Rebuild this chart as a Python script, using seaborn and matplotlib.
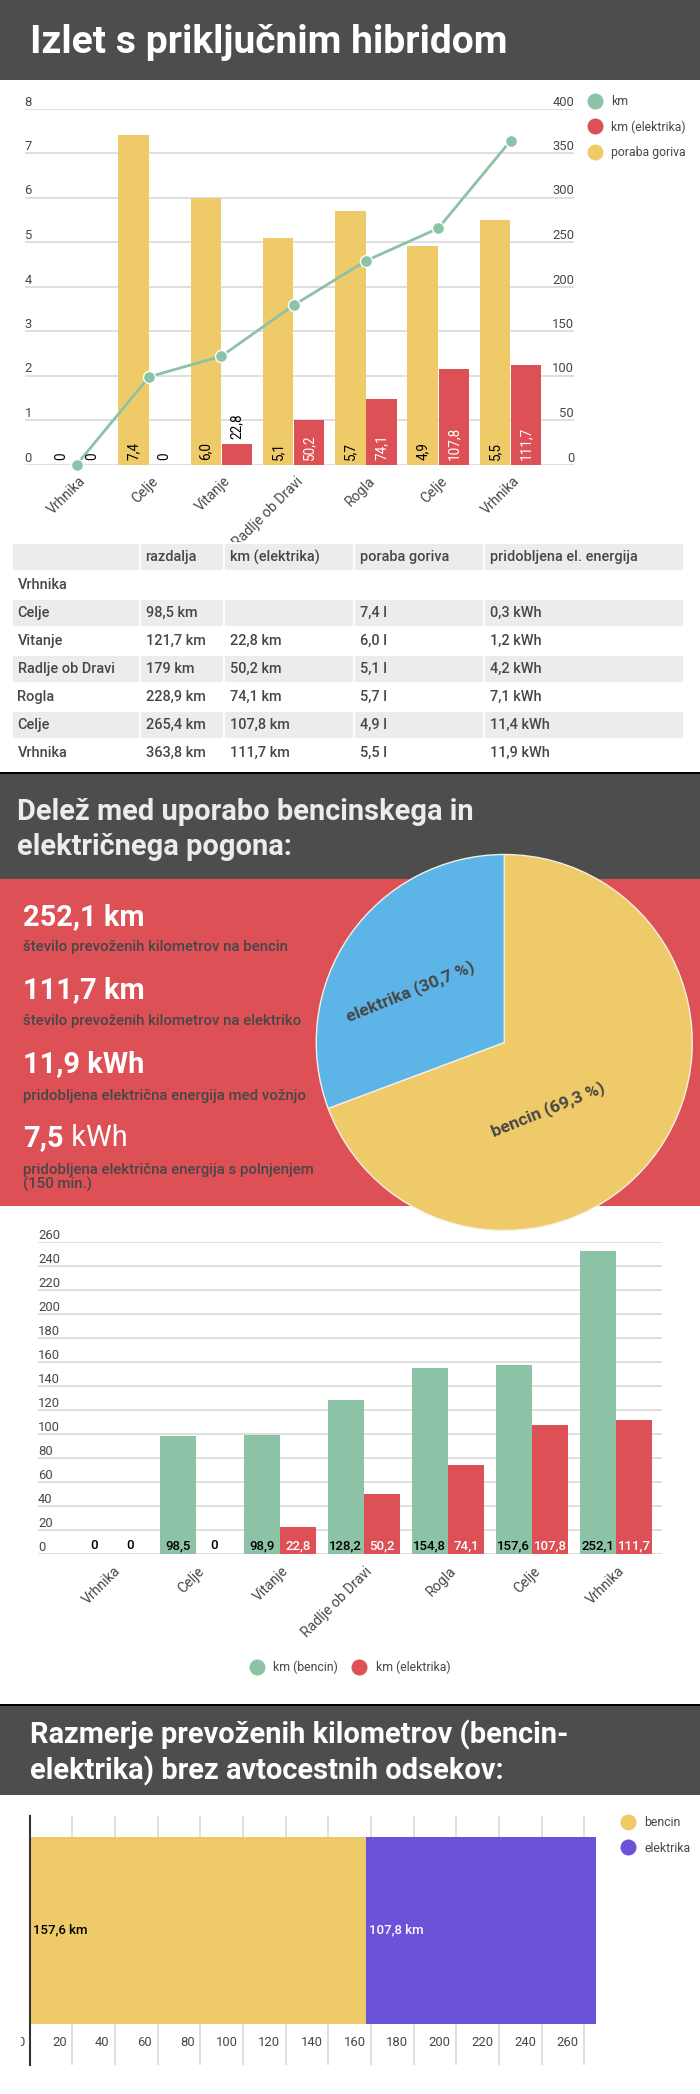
import matplotlib
matplotlib.use('Agg')
import matplotlib.pyplot as plt
import matplotlib.transforms as mtrans
import pandas as pd
import seaborn as sns
from matplotlib.lines import Line2D
from matplotlib.patches import Rectangle

W, H = 700, 2094

GREEN = '#8cc2a6'
RED = '#dc5056'
YELLOW = '#efca68'
BLUE = '#5db4e6'
PURPLE = '#6b52d9'
DARK = '#4d4d4d'
TEXT = '#474747'
GRID = '#dcdcdc'

stops = ['Vrhnika', 'Celje', 'Vitanje', 'Radlje ob Dravi', 'Rogla', 'Celje', 'Vrhnika']
stop_idx = [0, 1, 2, 3, 4, 5, 6]

fuel = [0, 7.4, 6.0, 5.1, 5.7, 4.9, 5.5]
km_total = [0, 98.5, 121.7, 179, 228.9, 265.4, 363.8]
km_electric = [0, 0, 22.8, 50.2, 74.1, 107.8, 111.7]
km_petrol = [0, 98.5, 98.9, 128.2, 154.8, 157.6, 252.1]

table_head = ['', 'razdalja', 'km (elektrika)', 'poraba goriva', 'pridobljena el. energija']
table_rows = [
    ['Vrhnika', '', '', '', ''],
    ['Celje', '98,5 km', '', '7,4 l', '0,3 kWh'],
    ['Vitanje', '121,7 km', '22,8 km', '6,0 l', '1,2 kWh'],
    ['Radlje ob Dravi', '179 km', '50,2 km', '5,1 l', '4,2 kWh'],
    ['Rogla', '228,9 km', '74,1 km', '5,7 l', '7,1 kWh'],
    ['Celje', '265,4 km', '107,8 km', '4,9 l', '11,4 kWh'],
    ['Vrhnika', '363,8 km', '111,7 km', '5,5 l', '11,9 kWh'],
]

share_labels = ['bencin (69,3 %)', 'elektrika (30,7 %)']
share_values = [69.3, 30.7]

split_labels = ['bencin', 'elektrika']
split_values = [157.6, 107.8]

sns.set_theme(style='white')
plt.rcParams['font.family'] = ['Roboto', 'DejaVu Sans']
plt.rcParams['axes.unicode_minus'] = False


def comma(v):
    if v == 0:
        return '0'
    return ('%.1f' % v).replace('.', ',')


def px(size):
    # font sizes below are given in pixels of the 100 dpi figure
    return size * 0.72


def px_axes(x0, y0, x1, y1, **kw):
    ax = fig.add_axes([x0 / W, 1 - y1 / H, (x1 - x0) / W, (y1 - y0) / H], **kw)
    ax.patch.set_alpha(0)
    return ax


def shift(label, dx, dy):
    label.set_transform(label.get_transform() + mtrans.ScaledTranslation(dx / 100, dy / 100, fig.dpi_scale_trans))


def clean(ax):
    ax.set_xlabel('')
    ax.set_ylabel('')
    ax.tick_params(length=0)
    for s in ax.spines.values():
        s.set_visible(False)


def circle_legend(labels, colors, x, y, ncol=1, size=12.3, spacing=1.0, colspace=0.7):
    handles = [Line2D([], [], ls='', marker='o', color=c, markersize=px(16), markeredgewidth=0) for c in colors]
    leg = fig.legend(handles, labels, loc='upper left', bbox_to_anchor=(x / W, 1 - y / H), ncol=ncol,
                     frameon=False, borderpad=0, borderaxespad=0, handletextpad=0.35,
                     labelspacing=spacing, columnspacing=colspace, fontsize=px(size))
    for t in leg.get_texts():
        t.set_color(TEXT)
    return leg


def xlabels(ax, dx):
    ax.set_xticks(stop_idx)
    ax.set_xticklabels(stops, rotation=45, ha='right', rotation_mode='anchor', color=TEXT, fontsize=px(14))
    ax.tick_params(axis='x', pad=7)
    for lab in ax.get_xticklabels():
        shift(lab, dx, 0)


fig = plt.figure(figsize=(W / 100, H / 100), dpi=100, facecolor='white')

# page background: bands and headings, drawn in pixel coordinates
bg = fig.add_axes([0, 0, 1, 1], zorder=-1)
bg.set_xlim(0, W)
bg.set_ylim(H, 0)
bg.axis('off')
bg.add_patch(Rectangle((0, 0), W, 79.5, color=DARK, lw=0))
bg.add_patch(Rectangle((0, 772), W, 2, color='black', lw=0))
bg.add_patch(Rectangle((0, 774), W, 104.5, color=DARK, lw=0))
bg.add_patch(Rectangle((0, 878.5), W, 327, color=RED, lw=0))
bg.add_patch(Rectangle((0, 1704), W, 2, color='black', lw=0))
bg.add_patch(Rectangle((0, 1706), W, 89, color=DARK, lw=0))

bg.text(30, 53, 'Izlet s priključnim hibridom', color='white', fontsize=px(39), fontweight='bold', va='baseline')
bg.text(17, 820, 'Delež med uporabo bencinskega in', color='#ececec', fontsize=px(29), fontweight='bold', va='baseline')
bg.text(17, 855, 'električnega pogona:', color='#ececec', fontsize=px(29), fontweight='bold', va='baseline')
bg.text(29.5, 1743.5, 'Razmerje prevoženih kilometrov (bencin-', color='white', fontsize=px(29), fontweight='bold', va='baseline')
bg.text(29.5, 1779.5, 'elektrika) brez avtocestnih odsekov:', color='white', fontsize=px(29), fontweight='bold', va='baseline')

big_numbers = [('252,1 km', 925), ('111,7 km', 998.5), ('11,9 kWh', 1072)]
for txt, y in big_numbers:
    bg.text(23, y, txt, color='white', fontsize=px(29), fontweight='bold', va='baseline')
t75 = bg.text(23, 1146.5, '7,5', color='white', fontsize=px(29), fontweight='bold', va='baseline')
bg.annotate(' kWh', xy=(1, 0), xycoords=t75, color='white', fontsize=px(29), fontweight='normal', va='bottom')

notes = [('število prevoženih kilometrov na bencin', 951.5),
         ('število prevoženih kilometrov na elektriko', 1025.5),
         ('pridobljena električna energija med vožnjo', 1100),
         ('pridobljena električna energija s polnjenjem', 1174),
         ('(150 min.)', 1188.5)]
for txt, y in notes:
    bg.text(23, y, txt, color=TEXT, fontsize=px(15), fontweight='medium', va='baseline')

# first chart: fuel use on the left scale, distances on the right
series = ['poraba goriva', 'km (elektrika)']
ax1 = px_axes(24.5, 108.5, 574, 464.5)
sns.barplot(x=stop_idx, y=fuel, hue=['poraba goriva'] * 7, hue_order=series, palette=[YELLOW, RED],
            width=0.862, gap=0.024, dodge=True, saturation=1, linewidth=0, legend=False, ax=ax1)
ax2 = ax1.twinx()
ax2.patch.set_alpha(0)
sns.barplot(x=stop_idx, y=km_electric, hue=['km (elektrika)'] * 7, hue_order=series, palette=[YELLOW, RED],
            width=0.862, gap=0.024, dodge=True, saturation=1, linewidth=0, legend=False, ax=ax2)
sns.lineplot(x=stop_idx, y=km_total, color=GREEN, linewidth=2, marker='o', markersize=px(12),
             markeredgecolor='white', markeredgewidth=1, clip_on=False, legend=False, ax=ax2)
ax1.set_xlim(-0.723, 6.877)
ax2.set_xlim(-0.723, 6.877)
ax1.set_ylim(0, 8)
ax2.set_ylim(0, 400)
ax1.set_yticks(range(0, 9))
ax2.set_yticks(range(0, 401, 50))
ax1.grid(axis='y', color=GRID, lw=1.3)
ax1.set_axisbelow(True)
clean(ax1)
clean(ax2)
ax1.tick_params(axis='y', pad=0, labelsize=px(13), labelcolor=TEXT)
ax2.tick_params(axis='y', pad=0, labelsize=px(13), labelcolor=TEXT)
for lab in ax1.get_yticklabels():
    lab.set_ha('left')
    lab.set_va('bottom')
for lab in ax2.get_yticklabels():
    lab.set_ha('right')
    lab.set_va('bottom')
xlabels(ax1, 2)
ax2.tick_params(axis='x', labelbottom=False)

for bar, v in zip(ax1.patches, fuel):
    ax1.annotate(comma(v), (bar.get_x() + bar.get_width() / 2, 0), xytext=(0, 5), textcoords='offset pixels',
                 rotation=90, ha='center', va='bottom', color='black', fontsize=px(13.5))
for bar, v in zip(ax2.patches, km_electric):
    inside = v > 40
    ax2.annotate(comma(v), (bar.get_x() + bar.get_width() / 2, 0 if inside else v), xytext=(0, 5),
                 textcoords='offset pixels', rotation=90, ha='center', va='bottom',
                 color='white' if inside else 'black', fontsize=px(13.5))

circle_legend(['km', 'km (elektrika)', 'poraba goriva'], [GREEN, RED, YELLOW], 582.5, 95)

# table
col_edges = [12, 140, 224, 354, 484, 684]
col_px = [b - a for a, b in zip(col_edges[:-1], col_edges[1:])]
ax_tab = px_axes(12, 543, 684, 767)
ax_tab.axis('off')
tab = ax_tab.table(cellText=table_rows, colLabels=table_head, colWidths=[c / 672 for c in col_px],
                   cellLoc='left', colLoc='left', bbox=[0, 0, 1, 1])
tab.auto_set_font_size(False)
tab.set_fontsize(px(14.5))
for (r, c), cell in tab.get_celld().items():
    cell.set_edgecolor('white')
    cell.set_linewidth(1.3)
    cell.set_facecolor('white' if r % 2 == 1 else '#ececec')
    cell.PAD = 5.5 / col_px[c]
    cell.get_text().set_color(TEXT)
    cell.get_text().set_fontweight('medium')

# pie
ax_pie = px_axes(316, 854.5, 692.5, 1230.5, zorder=3)
ax_pie.pie(share_values, colors=[YELLOW, BLUE], startangle=90, counterclock=False, radius=1,
           wedgeprops={'edgecolor': '#f4f0e6', 'linewidth': 1})
ax_pie.set_xlim(-1, 1)
ax_pie.set_ylim(-1, 1)
ax_pie.text(0.232, -0.354, share_labels[0], rotation=22, ha='center', va='center', color=TEXT,
            fontsize=px(17.5), fontweight='bold', rotation_mode='anchor')
ax_pie.text(-0.497, 0.269, share_labels[1], rotation=22, ha='center', va='center', color=TEXT,
            fontsize=px(17.5), fontweight='bold', rotation_mode='anchor')

# second chart: petrol and electric km per stop
ax3 = px_axes(38, 1241.7, 661.6, 1554.3)
long_km = pd.DataFrame({
    'stop': stop_idx * 2,
    'km': km_petrol + km_electric,
    'vir': ['km (bencin)'] * 7 + ['km (elektrika)'] * 7,
})
sns.barplot(data=long_km, x='stop', y='km', hue='vir', palette=[GREEN, RED], width=0.871, gap=0.024,
            saturation=1, linewidth=0, legend=False, ax=ax3)
ax3.set_xlim(-0.881, 6.543)
ax3.set_ylim(0, 260)
ax3.set_yticks(range(0, 261, 20))
ax3.grid(axis='y', color=GRID, lw=1.3)
ax3.set_axisbelow(True)
clean(ax3)
ax3.tick_params(axis='y', pad=0, labelsize=px(13), labelcolor=TEXT)
for lab in ax3.get_yticklabels():
    lab.set_ha('left')
    lab.set_va('bottom')
xlabels(ax3, 1)
for bar, v, col in zip(ax3.patches, km_petrol + km_electric, ['black'] * 7 + ['white'] * 7):
    if v == 0:
        col = 'black'
    ax3.annotate(comma(v), (bar.get_x() + bar.get_width() / 2, 0), xytext=(0, 2), textcoords='offset pixels',
                 ha='center', va='bottom', color=col, fontsize=px(13.2), fontweight='medium')

circle_legend(['km (bencin)', 'km (elektrika)'], [GREEN, RED], 244.5, 1660.5, ncol=2)

# third chart: stacked split without motorway sections, total drawn first
ax4 = px_axes(29.6, 1816, 600, 2064.7)
sns.barplot(x=[split_values[0] + split_values[1]], y=[0], orient='h', color=PURPLE, width=0.754, linewidth=0,
            saturation=1, native_scale=True, ax=ax4)
sns.barplot(x=[split_values[0]], y=[0], orient='h', color=YELLOW, width=0.754, linewidth=0, saturation=1,
            native_scale=True, ax=ax4)
ax4.set_xlim(0, 267.4)
ax4.set_ylim(-0.54, 0.46)
ax4.set_xticks(range(0, 261, 20))
ax4.set_yticks([])
ax4.grid(axis='x', color=GRID, lw=1.3)
ax4.set_axisbelow(True)
clean(ax4)
ax4.spines['left'].set_visible(True)
ax4.spines['left'].set_color('#333333')
ax4.spines['left'].set_linewidth(1.5)
ax4.tick_params(axis='x', pad=-21, labelsize=px(13), labelcolor=TEXT)
for lab in ax4.get_xticklabels():
    lab.set_ha('right')
    shift(lab, -5.5, 0)
    # the zero label is cut off at the left of the chart in the original
    lab.set_clip_box(mtrans.Bbox([[20.5, 0], [W, H]]))
    lab.set_clip_on(True)
ax4.annotate('157,6 km', (0, 0), xytext=(3, 0), textcoords='offset pixels', va='center', color='black',
             fontsize=px(13.2), fontweight='medium')
ax4.annotate('107,8 km', (split_values[0], 0), xytext=(3, 0), textcoords='offset pixels', va='center',
             color='white', fontsize=px(13.2), fontweight='medium')

circle_legend(split_labels, [YELLOW, PURPLE], 615.5, 1816.5)

fig.savefig('out.png', dpi=100, facecolor='white')
